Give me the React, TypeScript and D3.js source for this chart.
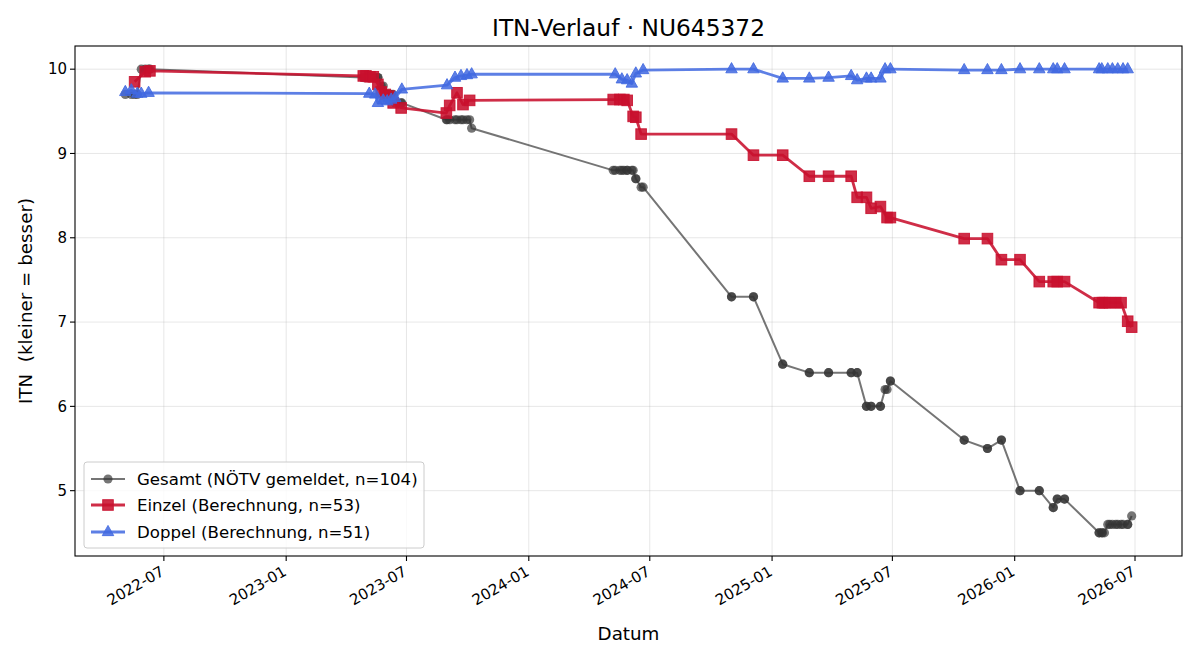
import * as d3 from "d3";

// ITN history per series: [date, value]
const einzelPoints: [string, number][] = [
  ["2022-05-18", 9.85], ["2022-06-03", 9.97], ["2022-06-10", 9.98],
  ["2023-04-27", 9.92], ["2023-05-01", 9.92], ["2023-05-07", 9.91], ["2023-05-12", 9.91],
  ["2023-05-19", 9.82], ["2023-05-24", 9.73], ["2023-05-30", 9.7], ["2023-06-05", 9.68],
  ["2023-06-11", 9.6], ["2023-06-23", 9.54],
  ["2023-08-30", 9.48], ["2023-09-04", 9.57], ["2023-09-15", 9.72], ["2023-09-24", 9.58],
  ["2023-10-04", 9.63],
  ["2024-05-07", 9.64], ["2024-05-17", 9.64], ["2024-05-23", 9.64], ["2024-05-28", 9.63],
  ["2024-06-06", 9.44], ["2024-06-10", 9.43], ["2024-06-18", 9.23],
  ["2024-11-01", 9.23], ["2024-12-04", 8.98], ["2025-01-17", 8.98], ["2025-02-26", 8.73],
  ["2025-03-27", 8.73], ["2025-04-30", 8.73], ["2025-05-09", 8.48], ["2025-05-23", 8.48],
  ["2025-05-30", 8.35], ["2025-06-13", 8.37], ["2025-06-23", 8.24], ["2025-06-28", 8.24],
  ["2025-10-17", 7.99], ["2025-11-21", 7.99], ["2025-12-12", 7.74], ["2026-01-09", 7.74],
  ["2026-02-07", 7.48], ["2026-02-28", 7.48], ["2026-03-06", 7.48], ["2026-03-17", 7.48],
  ["2026-05-08", 7.23], ["2026-05-13", 7.23], ["2026-05-16", 7.23], ["2026-05-24", 7.23],
  ["2026-06-02", 7.23], ["2026-06-10", 7.23], ["2026-06-20", 7.01], ["2026-06-26", 6.94],
];

const doppelPoints: [string, number][] = [
  ["2022-05-04", 9.73], ["2022-05-13", 9.75], ["2022-05-22", 9.71], ["2022-05-28", 9.71],
  ["2022-06-08", 9.72],
  ["2023-05-06", 9.71], ["2023-05-15", 9.7], ["2023-05-19", 9.6], ["2023-05-27", 9.63],
  ["2023-06-02", 9.62], ["2023-06-08", 9.64], ["2023-06-14", 9.66], ["2023-06-24", 9.76],
  ["2023-08-31", 9.81], ["2023-09-12", 9.9], ["2023-09-21", 9.92], ["2023-09-30", 9.93],
  ["2023-10-07", 9.94],
  ["2024-05-10", 9.94], ["2024-05-20", 9.88], ["2024-05-28", 9.87], ["2024-06-04", 9.83],
  ["2024-06-10", 9.95], ["2024-06-21", 9.99],
  ["2024-11-01", 10.0], ["2024-12-04", 10.0], ["2025-01-17", 9.89], ["2025-02-26", 9.89],
  ["2025-03-27", 9.9], ["2025-04-30", 9.92], ["2025-05-09", 9.87], ["2025-05-23", 9.89],
  ["2025-05-30", 9.89], ["2025-06-13", 9.89], ["2025-06-20", 10.0], ["2025-06-28", 10.0],
  ["2025-10-17", 9.99], ["2025-11-21", 9.99], ["2025-12-12", 9.99], ["2026-01-09", 10.0],
  ["2026-02-07", 10.0], ["2026-02-28", 10.0], ["2026-03-06", 10.0], ["2026-03-17", 10.0],
  ["2026-05-08", 10.0], ["2026-05-12", 10.0], ["2026-05-21", 10.0], ["2026-05-28", 10.0],
  ["2026-06-05", 10.0], ["2026-06-13", 10.0], ["2026-06-20", 10.0],
];

const gesamtPoints: [string, number][] = [
  ["2022-05-04", 9.7], ["2022-05-13", 9.7], ["2022-05-18", 9.7], ["2022-05-22", 9.7],
  ["2022-05-28", 10.0], ["2022-06-03", 10.0], ["2022-06-08", 10.0], ["2022-06-10", 10.0],
  ["2023-04-27", 9.9], ["2023-05-01", 9.9], ["2023-05-06", 9.9], ["2023-05-07", 9.9],
  ["2023-05-12", 9.9], ["2023-05-15", 9.9], ["2023-05-19", 9.9], ["2023-05-19", 9.9],
  ["2023-05-24", 9.8], ["2023-05-27", 9.8], ["2023-05-30", 9.7], ["2023-06-02", 9.7],
  ["2023-06-05", 9.7], ["2023-06-08", 9.7], ["2023-06-11", 9.7], ["2023-06-14", 9.6],
  ["2023-06-23", 9.6], ["2023-06-24", 9.6],
  ["2023-08-30", 9.4], ["2023-08-31", 9.4], ["2023-09-04", 9.4], ["2023-09-12", 9.4],
  ["2023-09-15", 9.4], ["2023-09-21", 9.4], ["2023-09-24", 9.4], ["2023-09-30", 9.4],
  ["2023-10-04", 9.4], ["2023-10-07", 9.3],
  ["2024-05-07", 8.8], ["2024-05-10", 8.8], ["2024-05-17", 8.8], ["2024-05-20", 8.8],
  ["2024-05-23", 8.8], ["2024-05-28", 8.8], ["2024-05-28", 8.8], ["2024-06-04", 8.8],
  ["2024-06-06", 8.8], ["2024-06-10", 8.7], ["2024-06-10", 8.7], ["2024-06-18", 8.6],
  ["2024-06-21", 8.6],
  ["2024-11-01", 7.3], ["2024-11-01", 7.3], ["2024-12-04", 7.3], ["2024-12-04", 7.3],
  ["2025-01-17", 6.5], ["2025-01-17", 6.5], ["2025-02-26", 6.4], ["2025-02-26", 6.4],
  ["2025-03-27", 6.4], ["2025-03-27", 6.4], ["2025-04-30", 6.4], ["2025-04-30", 6.4],
  ["2025-05-09", 6.4], ["2025-05-09", 6.4], ["2025-05-23", 6.0], ["2025-05-23", 6.0],
  ["2025-05-30", 6.0], ["2025-05-30", 6.0], ["2025-06-13", 6.0], ["2025-06-13", 6.0],
  ["2025-06-20", 6.2], ["2025-06-23", 6.2], ["2025-06-28", 6.3], ["2025-06-28", 6.3],
  ["2025-10-17", 5.6], ["2025-10-17", 5.6], ["2025-11-21", 5.5], ["2025-11-21", 5.5],
  ["2025-12-12", 5.6], ["2025-12-12", 5.6], ["2026-01-09", 5.0], ["2026-01-09", 5.0],
  ["2026-02-07", 5.0], ["2026-02-07", 5.0], ["2026-02-28", 4.8], ["2026-02-28", 4.8],
  ["2026-03-06", 4.9], ["2026-03-06", 4.9], ["2026-03-17", 4.9], ["2026-03-17", 4.9],
  ["2026-05-08", 4.5], ["2026-05-08", 4.5], ["2026-05-12", 4.5], ["2026-05-13", 4.5],
  ["2026-05-16", 4.5], ["2026-05-21", 4.6], ["2026-05-24", 4.6], ["2026-05-28", 4.6],
  ["2026-06-02", 4.6], ["2026-06-05", 4.6], ["2026-06-10", 4.6], ["2026-06-13", 4.6],
  ["2026-06-20", 4.6], ["2026-06-20", 4.6], ["2026-06-26", 4.7],
];

const yTicks = [5, 6, 7, 8, 9, 10];

const seriesLabels = [
  "Gesamt (NÖTV gemeldet, n=104)",
  "Einzel (Berechnung, n=53)",
  "Doppel (Berechnung, n=51)",
];

const W = 1200;
const H = 660;
const plot = { left: 75, right: 1182, top: 46, bottom: 556 };
const FONT = "DejaVu Sans, sans-serif";
const TICK_FS = 15;
const LABEL_FS = 18.3;
const TITLE_FS = 23.3;
const LEGEND_FS = 16.6;

const parse = d3.utcParse("%Y-%m-%d");
const fmt = d3.utcFormat("%Y-%m");

type Pt = { date: Date; value: number };
const toPts = (arr: [string, number][]): Pt[] =>
  arr.map(([d, v]) => ({ date: parse(d) as Date, value: v }));

const gesamt = toPts(gesamtPoints);
const einzel = toPts(einzelPoints);
const doppel = toPts(doppelPoints);
const all = [...gesamt, ...einzel, ...doppel];

// 5% margins around the data extent
const [t0, t1] = d3.extent(all, (d) => +d.date) as [number, number];
const padT = (t1 - t0) * 0.05;
const [v0, v1] = d3.extent(all, (d) => d.value) as [number, number];
const padV = (v1 - v0) * 0.05;

const x = d3
  .scaleUtc()
  .domain([new Date(t0 - padT), new Date(t1 + padT)])
  .range([plot.left, plot.right]);

const y = d3
  .scaleLinear()
  .domain([v0 - padV, v1 + padV])
  .range([plot.bottom, plot.top]);

const xTicks = x.ticks(d3.utcMonth.every(6) as d3.TimeInterval);

const line = d3
  .line<Pt>()
  .x((d) => x(d.date))
  .y((d) => y(d.value));

const styles = [
  { color: "#333333", alpha: 0.68, width: 2, marker: "circle" },
  { color: "#C8102E", alpha: 0.88, width: 2.8, marker: "square" },
  { color: "#4169E1", alpha: 0.85, width: 2.8, marker: "triangle" },
];

const Marker = ({ kind, cx, cy, color, alpha }: any) => {
  if (kind === "circle")
    return <circle cx={cx} cy={cy} r={4.6} fill={color} fillOpacity={alpha} />;
  if (kind === "square")
    return (
      <rect
        x={cx - 5.3}
        y={cy - 5.3}
        width={10.6}
        height={10.6}
        fill={color}
        fillOpacity={alpha}
        stroke={color}
        strokeOpacity={alpha}
        strokeWidth={1}
      />
    );
  const s = 6.6;
  return (
    <path
      d={`M${cx},${cy - s} L${cx + s * 0.87},${cy + s * 0.55} L${cx - s * 0.87},${cy + s * 0.55} Z`}
      fill={color}
      fillOpacity={alpha}
      stroke={color}
      strokeOpacity={alpha}
      strokeWidth={1}
    />
  );
};

const Series = ({ data, style }: { data: Pt[]; style: any }) => (
  <g>
    <path
      d={line(data) ?? ""}
      fill="none"
      stroke={style.color}
      strokeOpacity={style.alpha}
      strokeWidth={style.width}
      strokeLinejoin="round"
    />
    {data.map((d, i) => (
      <Marker
        key={i}
        kind={style.marker}
        cx={x(d.date)}
        cy={y(d.value)}
        color={style.color}
        alpha={style.alpha}
      />
    ))}
  </g>
);

export default function App() {
  const series = [gesamt, einzel, doppel];
  const legendRows = [479, 505, 532];
  const cx = (plot.left + plot.right) / 2;
  return (
    <svg
      width={W}
      height={H}
      style={{ position: "absolute", left: 0, top: 0, background: "#fff" }}
      fontFamily={FONT}
    >
      <rect width={W} height={H} fill="#fff" />

      {/* grid */}
      <g stroke="#b0b0b0" strokeOpacity={0.3} strokeWidth={1}>
        {xTicks.map((t) => (
          <line key={+t} x1={x(t)} x2={x(t)} y1={plot.top} y2={plot.bottom} />
        ))}
        {yTicks.map((v) => (
          <line key={v} x1={plot.left} x2={plot.right} y1={y(v)} y2={y(v)} />
        ))}
      </g>

      {series.map((s, i) => (
        <Series key={i} data={s} style={styles[i]} />
      ))}

      {/* frame */}
      <rect
        x={plot.left}
        y={plot.top}
        width={plot.right - plot.left}
        height={plot.bottom - plot.top}
        fill="none"
        stroke="#000"
        strokeWidth={1.1}
      />

      {/* x axis */}
      <g>
        {xTicks.map((t) => (
          <g key={+t}>
            <line x1={x(t)} x2={x(t)} y1={plot.bottom} y2={plot.bottom + 5} stroke="#000" strokeWidth={1.1} />
            <text
              transform={`translate(${x(t) - 4},${plot.bottom + 9}) rotate(-30)`}
              textAnchor="end"
              dy="0.72em"
              fontSize={TICK_FS}
              fill="#000"
            >
              {fmt(t)}
            </text>
          </g>
        ))}
        <text x={cx} y={640} textAnchor="middle" fontSize={LABEL_FS}>
          Datum
        </text>
      </g>

      {/* y axis */}
      <g>
        {yTicks.map((v) => (
          <g key={v}>
            <line x1={plot.left - 5} x2={plot.left} y1={y(v)} y2={y(v)} stroke="#000" strokeWidth={1.1} />
            <text x={plot.left - 8} y={y(v)} dy="0.35em" textAnchor="end" fontSize={TICK_FS}>
              {v}
            </text>
          </g>
        ))}
        <text
          transform={`translate(32,${(plot.top + plot.bottom) / 2}) rotate(-90)`}
          textAnchor="middle"
          fontSize={LABEL_FS}
          style={{ whiteSpace: "pre" }}
        >
          {"ITN  (kleiner = besser)"}
        </text>
      </g>

      <text x={cx} y={36} textAnchor="middle" fontSize={TITLE_FS}>
        ITN-Verlauf · NU645372
      </text>

      {/* legend */}
      <g>
        <rect x={84} y={462} width={340} height={86} rx={3} fill="#fff" fillOpacity={0.8} stroke="#ccc" />
        {seriesLabels.map((label, i) => {
          const st = styles[i];
          const ly = legendRows[i];
          return (
            <g key={label}>
              <line x1={91} x2={125} y1={ly} y2={ly} stroke={st.color} strokeOpacity={st.alpha} strokeWidth={st.width} />
              <Marker kind={st.marker} cx={108} cy={ly} color={st.color} alpha={st.alpha} />
              <text x={137} y={ly} dy="0.35em" fontSize={LEGEND_FS}>
                {label}
              </text>
            </g>
          );
        })}
      </g>
    </svg>
  );
}
